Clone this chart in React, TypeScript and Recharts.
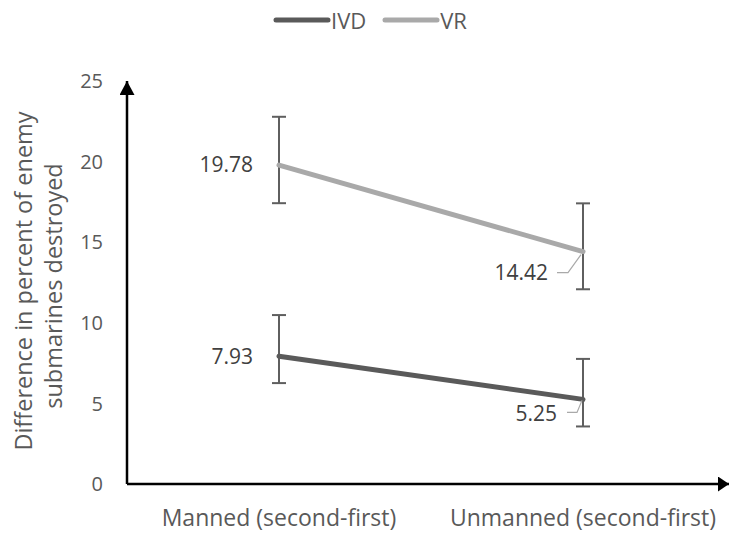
import React from 'react';
import { LineChart, Line, XAxis, YAxis, ErrorBar, LabelList, Legend } from 'recharts';

const categories = ['Manned (second-first)', 'Unmanned (second-first)'];
const ivdValues = [7.93, 5.25];
const vrValues = [19.78, 14.42];
const ivdErrLow = [1.67, 1.68];
const ivdErrHigh = [2.55, 2.51];
const vrErrLow = [2.36, 2.34];
const vrErrHigh = [3.0, 2.99];
const yTicks = [0, 5, 10, 15, 20, 25];
const seriesNames = ['IVD', 'VR'];

const data = categories.map((c, i) => ({
  category: c,
  IVD: ivdValues[i],
  VR: vrValues[i],
  ivdErr: [ivdErrLow[i], ivdErrHigh[i]],
  vrErr: [vrErrLow[i], vrErrHigh[i]],
}));

const FONT = '"Open Sans", sans-serif';
const IVD_COLOR = '#5A5A5A';
const VR_COLOR = '#A9A9A9';
const TEXT = '#595959';
const LABEL = '#404040';
const ERR = '#5F5F5F';

const fmt = (v: any) => Number(v).toFixed(2);

const renderVrLabel = (props: any) => {
  const { x, y, value, index } = props;
  if (index === 0) {
    return (
      <text x={x - 26} y={y} dy="0.35em" textAnchor="end" fill={LABEL} fontSize={21} fontFamily={FONT}>
        {fmt(value)}
      </text>
    );
  }
  return (
    <g>
      <polyline points={`${x - 26},${y + 21} ${x - 15},${y + 21} ${x - 2},${y + 3}`} fill="none" stroke={VR_COLOR} strokeWidth={1.2} />
      <text x={x - 35} y={y + 21} dy="0.35em" textAnchor="end" fill={LABEL} fontSize={21} fontFamily={FONT}>
        {fmt(value)}
      </text>
    </g>
  );
};

const renderIvdLabel = (props: any) => {
  const { x, y, value, index } = props;
  if (index === 0) {
    return (
      <text x={x - 26} y={y} dy="0.35em" textAnchor="end" fill={LABEL} fontSize={21} fontFamily={FONT}>
        {fmt(value)}
      </text>
    );
  }
  return (
    <g>
      <polyline points={`${x - 16},${y + 13} ${x - 6},${y + 13} ${x - 1},${y + 1}`} fill="none" stroke={VR_COLOR} strokeWidth={1.2} />
      <text x={x - 26} y={y + 14} dy="0.35em" textAnchor="end" fill={LABEL} fontSize={21} fontFamily={FONT}>
        {fmt(value)}
      </text>
    </g>
  );
};

const renderYTitle = () => (
  <g>
    <text transform="translate(24,281) rotate(-90)" textAnchor="middle" dy="0.35em" fill={TEXT} fontSize={23.5} fontFamily={FONT}>
      Difference in percent of enemy
    </text>
    <text transform="translate(54,286) rotate(-90)" textAnchor="middle" dy="0.35em" fill={TEXT} fontSize={23.5} fontFamily={FONT}>
      submarines destroyed
    </text>
  </g>
);

const renderLegend = () => {
  const colors = [IVD_COLOR, VR_COLOR];
  return (
    <div style={{ display: 'flex', alignItems: 'center', paddingLeft: 273, fontFamily: FONT, fontSize: 22, color: TEXT }}>
      {seriesNames.map((n, i) => (
        <div key={n} style={{ display: 'flex', alignItems: 'center', marginRight: 16 }}>
          <svg width={58} height={10}>
            <line x1={3} y1={5} x2={55} y2={5} stroke={colors[i]} strokeWidth={5} strokeLinecap="round" />
          </svg>
          <span style={{ lineHeight: '30px' }}>{n}</span>
        </div>
      ))}
    </div>
  );
};

export default function App() {
  return (
    <div style={{ width: 730, height: 534, position: 'relative' }}>
      <style>{`body{margin:0;}`}</style>
      <svg width={0} height={0} style={{ position: 'absolute' }}>
        <defs>
          <marker id="arrowY" markerUnits="userSpaceOnUse" markerWidth={14} markerHeight={15} viewBox="0 0 14 15" refX={14} refY={7.5} orient="auto-start-reverse">
            <path d="M0,0 L14,7.5 L0,15 z" fill="#000" />
          </marker>
          <marker id="arrowX" markerUnits="userSpaceOnUse" markerWidth={11} markerHeight={15} viewBox="0 0 11 15" refX={11} refY={7.5} orient="auto">
            <path d="M0,0 L11,7.5 L0,15 z" fill="#000" />
          </marker>
        </defs>
      </svg>
      <LineChart width={730} height={534} data={data} margin={{ top: 81, right: 1, bottom: 5, left: 67 }} style={{ fontFamily: FONT }}>
        <Legend verticalAlign="middle" layout="horizontal" wrapperStyle={{ top: 5, left: 0, width: 730 }} content={renderLegend} />
        <XAxis
          dataKey="category"
          type="category"
          padding={{ left: 152, right: 146 }}
          axisLine={{ stroke: '#000', strokeWidth: 2.5, markerEnd: 'url(#arrowX)' } as any}
          tickLine={false}
          tickSize={0}
          tickMargin={26}
          height={45}
          tick={{ fill: TEXT, fontSize: 23, fontFamily: FONT }}
        />
        <YAxis
          type="number"
          domain={[0, 25]}
          ticks={yTicks}
          width={60}
          axisLine={{ stroke: '#000', strokeWidth: 2.5, markerStart: 'url(#arrowY)' } as any}
          tickLine={false}
          tickSize={0}
          tickMargin={24}
          tick={{ fill: TEXT, fontSize: 20, fontFamily: FONT }}
          label={renderYTitle}
        />
        <Line dataKey="IVD" stroke={IVD_COLOR} strokeWidth={5} strokeLinecap="round" dot={false} isAnimationActive={false}>
          <ErrorBar dataKey="ivdErr" width={7} stroke={ERR} strokeWidth={2} direction="y" />
          <LabelList dataKey="IVD" content={renderIvdLabel} />
        </Line>
        <Line dataKey="VR" stroke={VR_COLOR} strokeWidth={5} strokeLinecap="round" dot={false} isAnimationActive={false}>
          <ErrorBar dataKey="vrErr" width={7} stroke={ERR} strokeWidth={2} direction="y" />
          <LabelList dataKey="VR" content={renderVrLabel} />
        </Line>
      </LineChart>
    </div>
  );
}
